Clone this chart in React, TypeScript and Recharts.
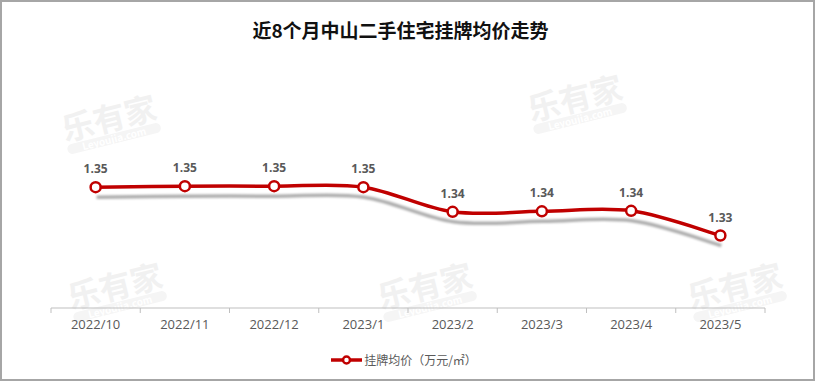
import { LineChart, Line, XAxis, YAxis, Legend, LabelList } from 'recharts';

const months = ['2022/10', '2022/11', '2022/12', '2023/1', '2023/2', '2023/3', '2023/4', '2023/5'];
const prices = [1.350, 1.3504, 1.3504, 1.350, 1.3398, 1.340, 1.3402, 1.330];
const seriesName = '挂牌均价（万元/㎡）';
const title = '近8个月中山二手住宅挂牌均价走势';

const data = months.map((m, i) => ({ month: m, price: prices[i] }));

const W = 815;
const H = 381;
const MARGIN = { top: 163, right: 50, bottom: 0, left: 51 };
const STEP = (W - MARGIN.left - MARGIN.right) / months.length;
const RED = '#c00000';
const FONT = '"Open Sans", "Noto Sans CJK SC", sans-serif';

const WATERMARKS = [
  { x: 62, y: 100 },
  { x: 528, y: 80 },
  { x: 68, y: 268 },
  { x: 378, y: 268 },
  { x: 688, y: 268 },
];

// office-style smoothed line (catmull-rom, 1/6 handles)
function smoothCurve(context: any) {
  let pts: [number, number][] = [];
  return {
    areaStart() {},
    areaEnd() {},
    lineStart() {
      pts = [];
    },
    point(x: number, y: number) {
      pts.push([+x, +y]);
    },
    lineEnd() {
      if (!pts.length) return;
      context.moveTo(pts[0][0], pts[0][1]);
      for (let i = 0; i < pts.length - 1; i++) {
        const p0 = pts[i - 1] || pts[i];
        const p1 = pts[i];
        const p2 = pts[i + 1];
        const p3 = pts[i + 2] || p2;
        context.bezierCurveTo(
          p1[0] + (p2[0] - p0[0]) / 6,
          p1[1] + (p2[1] - p0[1]) / 6,
          p2[0] - (p3[0] - p1[0]) / 6,
          p2[1] - (p3[1] - p1[1]) / 6,
          p2[0],
          p2[1],
        );
      }
    },
  };
}

function MonthTick(props: any) {
  const { x, y, payload, index } = props;
  const left = x - STEP / 2;
  const right = x + STEP / 2;
  return (
    <g>
      <line x1={left} y1={y} x2={left} y2={y + 5} stroke="#bfbfbf" />
      {index === months.length - 1 && <line x1={right} y1={y} x2={right} y2={y + 5} stroke="#bfbfbf" />}
      <text x={x} y={y + 21} textAnchor="middle" fill="#595959" fontSize={13} fontFamily={FONT}>
        {payload.value}
      </text>
    </g>
  );
}

function LegendContent() {
  return (
    <div style={{ height: 43, display: 'flex', alignItems: 'center', justifyContent: 'center', paddingRight: 8 }}>
      <svg width={31} height={12} style={{ marginRight: 2 }}>
        <line x1={0} y1={6} x2={31} y2={6} stroke={RED} strokeWidth={3.5} />
        <circle cx={15.5} cy={6} r={3.5} fill="#fff" stroke={RED} strokeWidth={2.5} />
      </svg>
      <span style={{ fontSize: 12, color: '#595959', fontFamily: '"Noto Sans CJK SC", sans-serif' }}>{seriesName}</span>
    </div>
  );
}

export default function App() {
  return (
    <div style={{ position: 'relative', width: W, height: H, background: '#fff', overflow: 'hidden' }}>
      <style>{`body{margin:0} .shadow-line{filter: drop-shadow(1px 10px 1.2px rgba(0,0,0,0.32));}`}</style>
      {WATERMARKS.map((w, i) => (
        <div
          key={i}
          style={{
            position: 'absolute',
            left: w.x,
            top: w.y,
            transform: 'rotate(-14deg)',
            color: '#f1f1f1',
            fontFamily: '"Noto Sans CJK SC", sans-serif',
            fontWeight: 700,
            lineHeight: 1,
            textAlign: 'center',
          }}
        >
          <div style={{ fontSize: 32 }}>乐有家</div>
          <div style={{ fontSize: 10, background: '#f5f5f5', color: '#fff', borderRadius: 6, marginTop: 2 }}>Leyoujia.com</div>
        </div>
      ))}
      <div
        style={{
          position: 'absolute',
          top: 17,
          left: 0,
          width: W,
          textAlign: 'center',
          fontSize: 19,
          fontWeight: 700,
          color: '#111',
          fontFamily: '"Noto Sans CJK SC", sans-serif',
          lineHeight: '26px',
          paddingRight: 14,
          boxSizing: 'border-box',
        }}
      >
        {title}
      </div>
      <div style={{ position: 'absolute', left: 0, top: 0 }}>
        <LineChart width={W} height={H} data={data} margin={MARGIN}>
          <XAxis
            dataKey="month"
            scale="band"
            axisLine={{ stroke: '#bfbfbf' }}
            tickLine={false}
            tickSize={0}
            tickMargin={0}
            height={30}
            interval={0}
            tick={<MonthTick />}
          />
          <YAxis hide domain={[1.3, 1.36]} />
          <Legend verticalAlign="bottom" height={43} content={<LegendContent />} />
          <Line
            className="shadow-line"
            type={smoothCurve as any}
            dataKey="price"
            stroke={RED}
            strokeWidth={3.5}
            dot={{ r: 5, fill: '#fff', stroke: RED, strokeWidth: 2.5 }}
            activeDot={false}
            isAnimationActive={false}
          />
          <Line
            type="monotone"
            dataKey="price"
            stroke="none"
            dot={false}
            activeDot={false}
            legendType="none"
            isAnimationActive={false}
          >
            <LabelList
              dataKey="price"
              position="top"
              offset={14}
              formatter={(v: any) => Number(v).toFixed(2)}
              style={{ fill: '#595959', fontSize: 12, fontWeight: 700, fontFamily: FONT }}
            />
          </Line>
        </LineChart>
      </div>
      <div style={{ position: 'absolute', inset: 0, border: '2px solid #a6a6a6', pointerEvents: 'none' }} />
    </div>
  );
}
